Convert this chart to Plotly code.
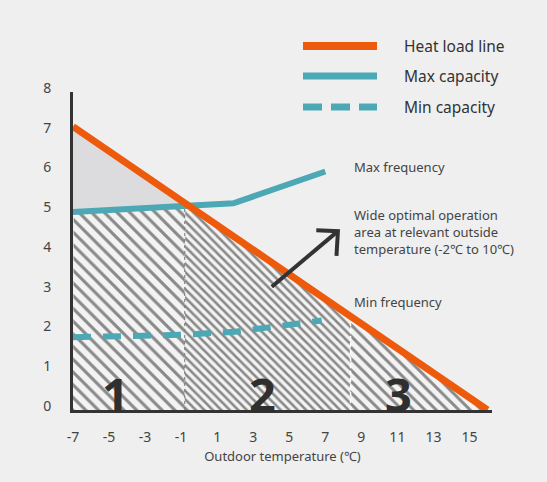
import numpy as np
import plotly.graph_objects as go

# ---- data ----
temp_ticks = [-7, -5, -3, -1, 1, 3, 5, 7, 9, 11, 13, 15]
load_ticks = [0, 1, 2, 3, 4, 5, 6, 7, 8]

heat_x = [-7, 16]
heat_y = [7.13, 0]
maxcap_x = [-7, 1.9, 7]
maxcap_y = [4.98, 5.2, 6.0]
mincap_x = [-7, -1, 2, 6.8]
mincap_y = [1.83, 1.89, 1.97, 2.25]

zone_edges = [-7, -0.8, 8.4, 16]
zone_labels = ["1", "2", "3"]
zone_label_x = [-4.65, 3.5, 11.05]
zone_hatch_size = [9, 6, 8]
zone_hatch_solidity = [0.34, 0.42, 0.36]

legend_names = ["Heat load line", "Max capacity", "Min capacity"]

annot_texts = ["Max frequency",
               "Wide optimal operation<br>area at relevant outside<br>temperature (-2℃ to 10℃)",
               "Min frequency"]
annot_y = [6.11, 4.48, 2.72]
annot_x = 8.5

# ---- styles ----
BG = "#efefef"
HATCH_BG = "#f3f3f3"
ORANGE = "#ee5a0c"
TEAL = "#4ba8b4"
GRAY = "#dcdcdf"
DARK = "#333333"
TXT = "#444444"
FONT = "Noto Sans"

fig = go.Figure()


def heat(x):
    return np.interp(x, heat_x, heat_y)


def maxcap(x):
    return np.interp(x, maxcap_x, maxcap_y)


# hatched zones
for i in range(3):
    a, b = zone_edges[i], zone_edges[i + 1]
    xs = np.linspace(a, b, 300)
    top = np.minimum(heat(xs), maxcap(xs))
    px = np.concatenate([[a], xs, [b]])
    py = np.concatenate([[0], top, [0]])
    fig.add_trace(go.Scatter(
        x=px, y=py, mode="lines", fill="toself", line=dict(width=0),
        fillcolor=HATCH_BG,
        fillpattern=dict(shape="\\", size=zone_hatch_size[i], solidity=zone_hatch_solidity[i],
                         fgcolor="#1f1f1f", bgcolor=HATCH_BG, fillmode="overlay"),
        hoverinfo="skip", showlegend=False))

# gray triangle between heat load line and max capacity
grid = np.linspace(-7, 16, 2301)
diff = heat(grid) - maxcap(grid)
xi = grid[np.argmax(diff <= 0)]
gx = np.linspace(-7, xi, 200)
fig.add_trace(go.Scatter(
    x=np.concatenate([gx, gx[::-1]]),
    y=np.concatenate([heat(gx), maxcap(gx)[::-1]]),
    mode="lines", fill="toself", fillcolor=GRAY, line=dict(width=0),
    hoverinfo="skip", showlegend=False))

# zone separators
fig.add_trace(go.Scatter(x=[zone_edges[1], zone_edges[1]],
                         y=[0, min(heat(zone_edges[1]), maxcap(zone_edges[1]))],
                         mode="lines", line=dict(color="#777777", width=1, dash="3px,3px"),
                         hoverinfo="skip", showlegend=False))
fig.add_trace(go.Scatter(x=[zone_edges[2], zone_edges[2]],
                         y=[0, heat(zone_edges[2])],
                         mode="lines", line=dict(color="#ffffff", width=1.5, dash="4px,3px"),
                         hoverinfo="skip", showlegend=False))

# lines
fig.add_trace(go.Scatter(x=mincap_x, y=mincap_y, mode="lines",
                         line=dict(color=TEAL, width=6, dash="18px,12px"),
                         name=legend_names[2], showlegend=False))
fig.add_trace(go.Scatter(x=maxcap_x, y=maxcap_y, mode="lines",
                         line=dict(color=TEAL, width=6),
                         name=legend_names[1], showlegend=False))
fig.add_trace(go.Scatter(x=heat_x, y=heat_y, mode="lines",
                         line=dict(color=ORANGE, width=7),
                         name=legend_names[0], showlegend=False))

# zone numbers
for lab, zx in zip(zone_labels, zone_label_x):
    fig.add_annotation(x=zx, y=0.40, text=f"<b>{lab}</b>", showarrow=False,
                       font=dict(family=FONT, size=47, color="#2f2f2f"),
                       xanchor="center", yanchor="middle")

# text annotations
for t, ay in zip(annot_texts, annot_y):
    fig.add_annotation(x=annot_x, y=ay, text=t, showarrow=False, align="left",
                       xanchor="left", yanchor="middle",
                       font=dict(family=FONT, size=13, color=TXT))

# arrow (decoration)
arrow_tail = (4.03, 3.1)
arrow_tip = (7.7, 4.5)
arm1 = (6.5, 4.52)
arm2 = (7.62, 3.88)
fig.add_shape(type="line", x0=arrow_tail[0], y0=arrow_tail[1], x1=arrow_tip[0], y1=arrow_tip[1],
              line=dict(color=DARK, width=4), layer="above")
fig.add_shape(type="path",
              path=f"M {arm1[0]} {arm1[1]} L {arrow_tip[0]} {arrow_tip[1]} L {arm2[0]} {arm2[1]}",
              line=dict(color=DARK, width=4), layer="above")

# manual legend (paper coords)
W, L_, T_, H = 547, 73, 92, 318
R_ = 55


def pxx(p):
    return (p - L_) / (W - L_ - R_)


def pyy(p):
    return (T_ + H - p) / H


leg_y = [46, 76, 107]
fig.add_shape(type="line", xref="paper", yref="paper", x0=pxx(303), x1=pxx(377),
              y0=pyy(leg_y[0]), y1=pyy(leg_y[0]), line=dict(color=ORANGE, width=8))
fig.add_shape(type="line", xref="paper", yref="paper", x0=pxx(303), x1=pxx(377),
              y0=pyy(leg_y[1]), y1=pyy(leg_y[1]), line=dict(color=TEAL, width=7))
for d0, d1 in [(303, 322), (331, 350), (359, 377)]:
    fig.add_shape(type="line", xref="paper", yref="paper", x0=pxx(d0), x1=pxx(d1),
                  y0=pyy(leg_y[2]), y1=pyy(leg_y[2]), line=dict(color=TEAL, width=7))
for name, ly in zip(legend_names, leg_y):
    fig.add_annotation(xref="paper", yref="paper", x=pxx(402), y=pyy(ly), text=name,
                       showarrow=False, xanchor="left", yanchor="middle",
                       font=dict(family=FONT, size=15.5, color="#333333"))

fig.update_layout(
    width=547, height=482,
    margin=dict(l=L_, r=R_, t=T_, b=482 - T_ - H),
    paper_bgcolor=BG, plot_bgcolor=BG,
    showlegend=False,
    font=dict(family=FONT, color=TXT, size=13),
)
fig.update_xaxes(range=[-7, 16.25], tickvals=temp_ticks, ticktext=[str(v) for v in temp_ticks],
                 showgrid=False, zeroline=False, showline=True, linecolor=DARK, linewidth=3,
                 ticks="", ticklabelstandoff=12, tickfont=dict(size=14, color=TXT),
                 title=dict(text="Outdoor temperature (℃)", standoff=8,
                            font=dict(size=13, color=TXT)))
fig.update_yaxes(range=[0, 8], tickvals=load_ticks, ticktext=[str(v) for v in load_ticks],
                 showgrid=False, zeroline=False, showline=True, linecolor=DARK, linewidth=3,
                 ticks="", ticklabelstandoff=16, ticklabelshift=-4,
                 tickfont=dict(size=14, color=TXT))

fig.write_html("out.html")
